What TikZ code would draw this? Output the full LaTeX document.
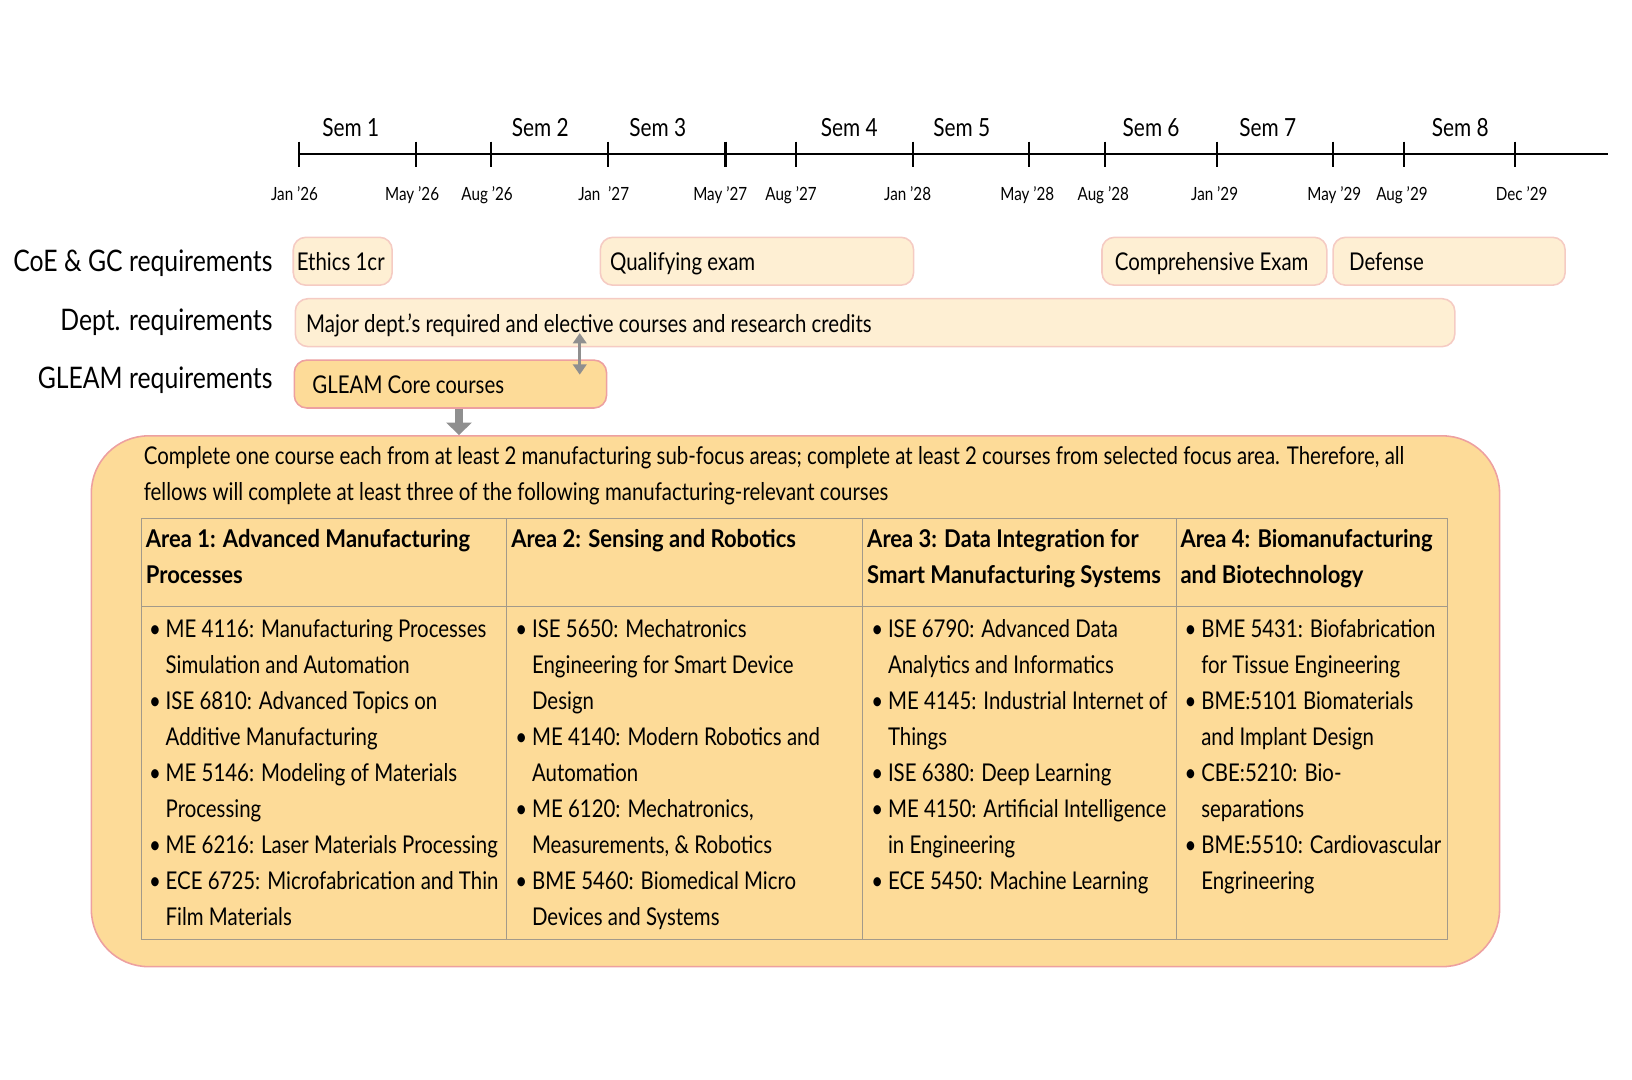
\documentclass[tikz,border=0pt]{standalone}
\usepackage{fontspec}
\setmainfont{Lato}[FakeStretch=0.835, BoldFeatures={FakeStretch=0.9}]
\usetikzlibrary{arrows.meta}
\definecolor{cream}{HTML}{FEEFD3}
\definecolor{creamline}{HTML}{F5CBC3}
\definecolor{gold}{HTML}{FDDB98}
\definecolor{goldline}{HTML}{EDA0A0}
\definecolor{gridline}{HTML}{A39A8A}
\definecolor{arrowgray}{HTML}{8F8F8F}
\newcommand\bitem[1]{\makebox[16pt][l]{\textbullet}#1}
\newcommand\cnt[1]{\hspace*{16pt}#1}
\begin{document}
\begin{tikzpicture}[x=1pt,y=-1pt,
  semlab/.style={font=\fontsize{24}{28}\selectfont, anchor=base, inner sep=0pt},
  datelab/.style={font=\fontsize{17.5}{20}\selectfont, anchor=base, inner sep=0pt},
  rowlab/.style={font=\fontsize{28.5}{32}\selectfont, anchor=base east, inner sep=0pt},
  reqbox/.style={draw=creamline, fill=cream, line width=1.5pt, rounded corners=12pt,
     anchor=west, minimum height=46pt, inner sep=0pt},
  gleambox/.style={reqbox, draw=goldline, fill=gold},
  boxtext/.style={font=\fontsize{23.5}{28}\selectfont, anchor=base west, inner sep=0pt},
  bigbox/.style={draw=goldline, fill=gold, line width=1.5pt, rounded corners=55pt,
     anchor=north west, inner sep=0pt},
  celltext/.style={font=\fontsize{23.5}{34.6}\selectfont, anchor=north west, inner sep=0pt, align=left},
  headtext/.style={celltext, font=\fontsize{23.5}{34.6}\selectfont\bfseries},
  grid/.style={draw=gridline, line width=1pt},
  axisline/.style={line width=2pt, black},
  grayarrow/.style={arrowgray, line width=3pt, {Triangle[width=13pt,length=10pt]}-{Triangle[width=13pt,length=10pt]}},
  fatarrow/.style={arrowgray, line width=8pt, -{Triangle[width=24pt,length=12pt]}}
]
\useasboundingbox (0,0) rectangle (1568,1037.6);

% ---------- timeline ----------
\coordinate (axstart) at (287,148);
\coordinate (axend) at (1545,148);
\draw[axisline] (axstart) -- (axend);
\foreach \x in {287,400,472,584,697,765,877,989,1062,1169,1281,1349,1456}
  \draw[axisline] (\x,136) -- (\x,160);
\foreach \x/\t [count=\i] in {337/Sem 1,519/Sem 2,632/Sem 3,816/Sem 4,924/Sem 5,1106/Sem 6,1218/Sem 7,1403/Sem 8}
  \node[semlab] (sem\i) at (\x,131) {\t};
\foreach \x/\t [count=\i] in {283/Jan ’26,396/May ’26,468/Aug ’26,580/Jan\ \ ’27,692/May ’27,760/Aug ’27,872/Jan ’28,987/May ’28,1060/Aug ’28,1167/Jan ’29,1282/May ’29,1347/Aug ’29,1462/Dec ’29}
  \node[datelab] (date\i) at (\x,193) {\t};

% ---------- row labels ----------
\node[rowlab] (lcoe) at (262,261) {CoE \& GC requirements};
\node[rowlab] (ldept) at (262,318) {Dept. requirements};
\node[rowlab] (lgleam) at (262,373) {GLEAM requirements};

% ---------- requirement boxes ----------
\node[reqbox, minimum width=95pt] (ethics) at (281,251) {};
\node[boxtext] (ethicst) at (285,260) {Ethics 1cr};
\node[reqbox, minimum width=301pt] (qual) at (576,251) {};
\node[boxtext] (qualt) at (586,260) {Qualifying exam};
\node[reqbox, minimum width=216pt] (comp) at (1058,251) {};
\node[boxtext] (compt) at (1071,260) {Comprehensive Exam};
\node[reqbox, minimum width=223pt] (defense) at (1280,251) {};
\node[boxtext] (defenset) at (1296,260) {Defense};
\node[reqbox, minimum width=1114pt] (dept) at (283,310) {};
\node[boxtext] (deptt) at (294,319) {Major dept.’s required and elective courses and research credits};
\node[gleambox, minimum width=300pt] (gleam) at (282,369) {};
\node[boxtext] (gleamt) at (300,378) {GLEAM Core courses};

% ---------- big box ----------
\node[bigbox, minimum width=1353pt, minimum height=510pt] (big) at (87,418) {};

% arrows
\coordinate (dtop) at (557,320);
\coordinate (dbot) at (557,360);
\draw[grayarrow] (dtop) -- (dbot);
\draw[fatarrow] (gleam.south -| 441,0) -- (big.north -| 441,0);

% paragraph
\node[celltext] (para) at (138,421.8) {\strut Complete one course each from at least 2 manufacturing sub-focus areas; complete at least 2 courses from selected focus area. Therefore, all\\fellows will complete at least three of the following manufacturing-relevant courses};

% ---------- table ----------
\draw[grid] (136,498) rectangle (1391,903);
\draw[grid] (136,583) -- (1391,583);
\foreach \x in {487,829,1130} \draw[grid] (\x,498) -- (\x,903);

\node[headtext] (h1) at (140,501.8) {\strut Area 1: Advanced Manufacturing\\Processes};
\node[headtext] (h2) at (491,501.8) {\strut Area 2: Sensing and Robotics};
\node[headtext] (h3) at (833,501.8) {\strut Area 3: Data Integration for\\Smart Manufacturing Systems};
\node[headtext] (h4) at (1134,501.8) {\strut Area 4: Biomanufacturing\\and Biotechnology};

\node[celltext] (b1) at (143,587.8) {\strut\bitem{ME 4116: Manufacturing Processes}\\\cnt{Simulation and Automation}\\\bitem{ISE 6810: Advanced Topics on}\\\cnt{Additive Manufacturing}\\\bitem{ME 5146: Modeling of Materials}\\\cnt{Processing}\\\bitem{ME 6216: Laser Materials Processing}\\\bitem{ECE 6725: Microfabrication and Thin}\\\cnt{Film Materials}};
\node[celltext] (b2) at (495,587.8) {\strut\bitem{ISE 5650: Mechatronics}\\\cnt{Engineering for Smart Device}\\\cnt{Design}\\\bitem{ME 4140: Modern Robotics and}\\\cnt{Automation}\\\bitem{ME 6120: Mechatronics,}\\\cnt{Measurements, \& Robotics}\\\bitem{BME 5460: Biomedical Micro}\\\cnt{Devices and Systems}};
\node[celltext] (b3) at (837,587.8) {\strut\bitem{ISE 6790: Advanced Data}\\\cnt{Analytics and Informatics}\\\bitem{ME 4145: Industrial Internet of}\\\cnt{Things}\\\bitem{ISE 6380: Deep Learning}\\\bitem{ME 4150: Artificial Intelligence}\\\cnt{in Engineering}\\\bitem{ECE 5450: Machine Learning}};
\node[celltext] (b4) at (1138,587.8) {\strut\bitem{BME 5431: Biofabrication}\\\cnt{for Tissue Engineering}\\\bitem{BME:5101 Biomaterials}\\\cnt{and Implant Design}\\\bitem{CBE:5210: Bio-}\\\cnt{separations}\\\bitem{BME:5510: Cardiovascular}\\\cnt{Engrineering}};
\end{tikzpicture}
\end{document}
